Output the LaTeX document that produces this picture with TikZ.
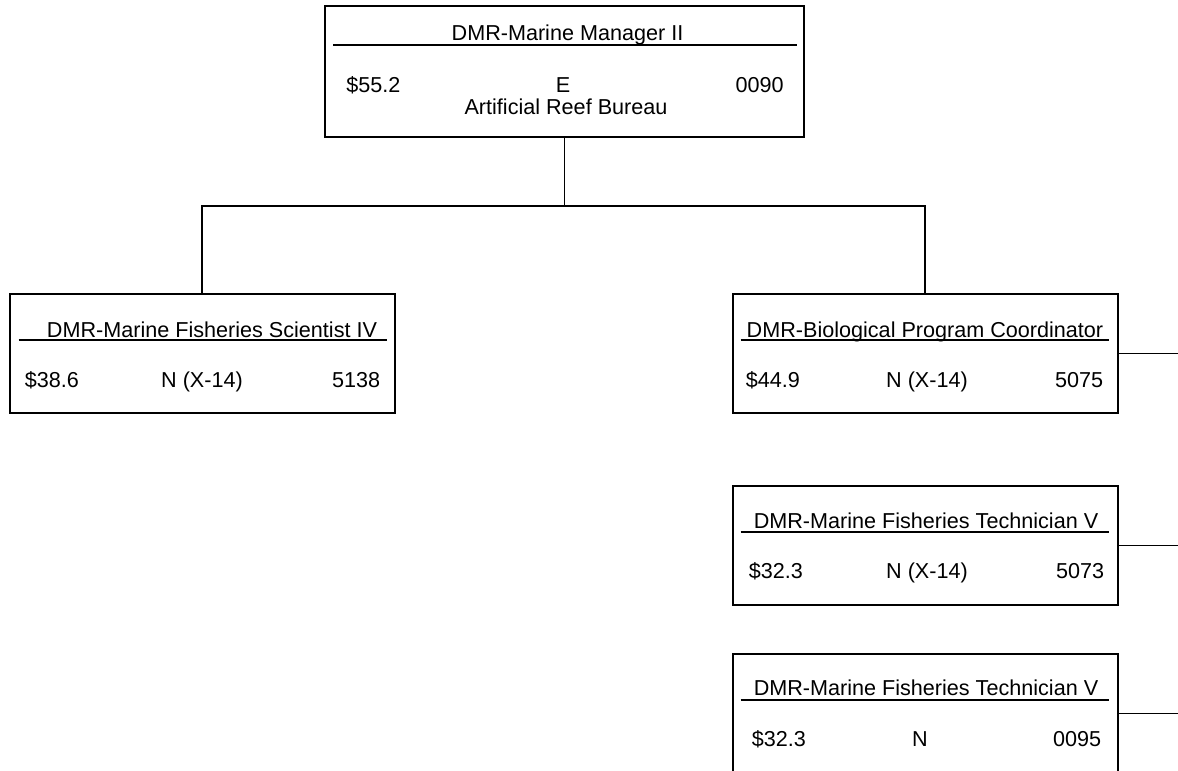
\documentclass[tikz,border=0pt]{standalone}
\usepackage{fontspec}
\setmainfont{Liberation Sans}
\usetikzlibrary{positioning,calc}
\tikzstyle{post} = [draw, line width=1pt, rectangle, inner sep=0pt,
	minimum width=192.5pt, minimum height=59.5pt]
\tikzstyle{head} = [post, minimum width=239.5pt, minimum height=65.5pt]
\tikzstyle{txt} = [inner sep=0pt, font=\fontsize{10.8}{13}\selectfont]
\tikzstyle{rule} = [line width=0.6pt]
\tikzstyle{link} = [line width=1pt]
\tikzstyle{stub} = [line width=0.65pt]

\begin{document}
\begin{tikzpicture}[x=0.5pt, y=-0.5pt]
	\useasboundingbox (0,0) rectangle (1178,771);
	\clip (0,0) rectangle (1178,771);

	\node [head] (mgr) at (564.5,71.5) {};
	\node [post] (coord) at (925,353.5) {};
	\node [post, left=168pt of coord] (sci) {};
	\node [post, below=35.5pt of coord] (techa) {};
	\node [post, below=23.5pt of techa] (techb) {};
	\coordinate (bus) at (565,206);
	\coordinate (edge) at (1180,0);

	% manager
	\node [txt, anchor=base] (mgr-t) at ($(mgr.north)+(3,35)$) {DMR-Marine Manager II};
	\draw [rule] ($(mgr.north west)+(9,40)$) -- ($(mgr.north east)+(-8,40)$);
	\node [txt, anchor=base west] (mgr-p) at ($(mgr.north west)+(22,87)$) {\$55.2};
	\node [txt, anchor=base] (mgr-g) at ($(mgr.north)+(-1.5,87)$) {E};
	\node [txt, anchor=base east] (mgr-n) at ($(mgr.north east)+(-21,87)$) {0090};
	\node [txt, anchor=base] (mgr-u) at ($(mgr.north)+(1.5,109)$) {Artificial Reef Bureau};

	% scientist
	\node [txt, anchor=base] (sci-t) at ($(sci.north)+(10,44)$) {DMR-Marine Fisheries Scientist IV};
	\draw [rule] ($(sci.north west)+(10,47)$) -- ($(sci.north east)+(-9,47)$);
	\node [txt, anchor=base west] (sci-p) at ($(sci.north west)+(16,94)$) {\$38.6};
	\node [txt, anchor=base] (sci-g) at ($(sci.north)+(0,94)$) {N (X-14)};
	\node [txt, anchor=base east] (sci-n) at ($(sci.north east)+(-15,94)$) {5138};

	% coordinator
	\node [txt, anchor=base] (coord-t) at ($(coord.north)+(0,44)$) {DMR-Biological Program Coordinator};
	\draw [rule] ($(coord.north west)+(9,47)$) -- ($(coord.north east)+(-10,47)$);
	\node [txt, anchor=base west] (coord-p) at ($(coord.north west)+(14,94)$) {\$44.9};
	\node [txt, anchor=base] (coord-g) at ($(coord.north)+(2,94)$) {N (X-14)};
	\node [txt, anchor=base east] (coord-n) at ($(coord.north east)+(-15,94)$) {5075};

	% technicians
	\node [txt, anchor=base] (techa-t) at ($(techa.north)+(1,43)$) {DMR-Marine Fisheries Technician V};
	\draw [rule] ($(techa.north west)+(9,47)$) -- ($(techa.north east)+(-10,47)$);
	\node [txt, anchor=base west] (techa-p) at ($(techa.north west)+(17,93)$) {\$32.3};
	\node [txt, anchor=base] (techa-g) at ($(techa.north)+(2,93)$) {N (X-14)};
	\node [txt, anchor=base east] (techa-n) at ($(techa.north east)+(-14,93)$) {5073};

	\node [txt, anchor=base] (techb-t) at ($(techb.north)+(1,42)$) {DMR-Marine Fisheries Technician V};
	\draw [rule] ($(techb.north west)+(9,47)$) -- ($(techb.north east)+(-10,47)$);
	\node [txt, anchor=base west] (techb-p) at ($(techb.north west)+(20,93)$) {\$32.3};
	\node [txt, anchor=base] (techb-g) at ($(techb.north)+(-5,93)$) {N};
	\node [txt, anchor=base east] (techb-n) at ($(techb.north east)+(-17,93)$) {0095};

	\draw [line width=0.7pt] (mgr.south) -- (mgr.south |- bus);
	\draw [link] (sci.north) |- (bus) -| (coord.north);
	\draw [stub] (coord.east) -- (coord.east -| edge);
	\draw [stub] (techa.east) -- (techa.east -| edge);
	\draw [stub] (techb.east) -- (techb.east -| edge);
\end{tikzpicture}
\end{document}
